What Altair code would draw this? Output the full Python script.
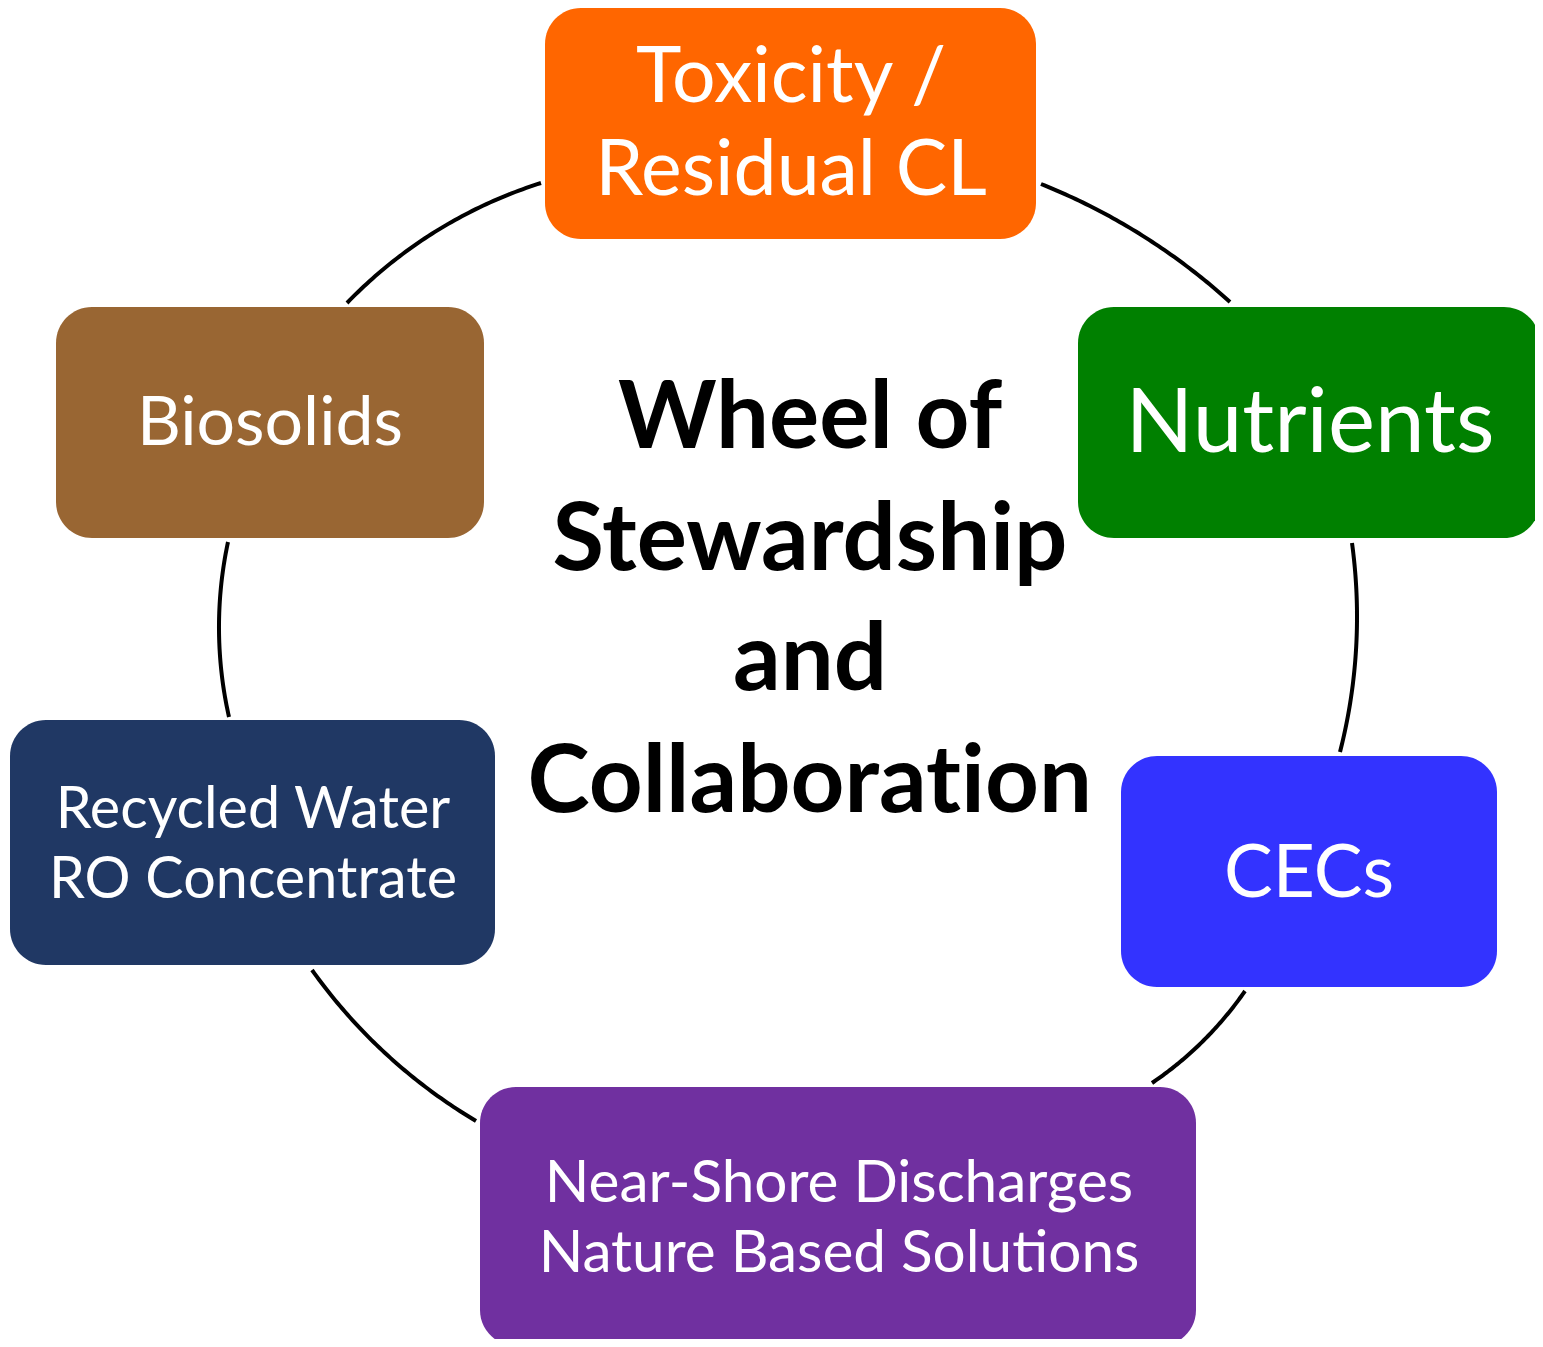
import altair as alt
import pandas as pd
import numpy as np

# ---- Boxes (screen-pixel coordinates) ----
box_names = ["Toxicity", "Nutrients", "CECs", "NearShore", "Recycled", "Biosolids"]
box_x1 = [545, 1078, 1121, 480, 10, 56]
box_x2 = [1036, 1540, 1497, 1196, 495, 484]
box_y1 = [8, 307, 756, 1087, 720, 307]
box_y2 = [239, 538, 987, 1346, 965, 538]
box_colors = ["#FF6600", "#008000", "#3333FF", "#7030A0", "#203864", "#996633"]

# ---- Box labels ----
label_lines = [["Toxicity /", "Residual CL"], ["Nutrients"], ["CECs"],
               ["Near-Shore Discharges", "Nature Based Solutions"],
               ["Recycled Water", "RO Concentrate"], ["Biosolids"]]
label_x = [791, 1310, 1309, 839, 253, 270]
label_baselines = [[102, 195], [452], [897], [1202, 1272], [828, 898], [445]]
label_sizes = [77, 89, 73, 58.5, 57.5, 68]

# ---- Centre title; last word is set in two runs so "ti" is not a ligature ----
title_text = ["Wheel of", "Stewardship", "and", "Collaborat", "ion"]
title_xpos = [810, 810, 810, 961, 961]
title_align = ["center", "center", "center", "right", "left"]
title_baselines = [448, 570, 690, 812, 812]
title_size = 94

# ---- Connector arcs: start, middle, end points ----
arc_start = [(347, 303), (1041, 184), (1352, 543), (1245, 991), (312, 970), (228, 542)]
arc_mid = [(430, 235), (1130, 228), (1357, 620), (1200, 1044), (395, 1062), (219, 630)]
arc_end = [(541, 183), (1230, 302), (1340, 752), (1152, 1083), (476, 1121), (229, 717)]


def circle3(p1, p2, p3):
    ax, ay = p1
    bx, by = p2
    cx, cy = p3
    d = 2 * (ax * (by - cy) + bx * (cy - ay) + cx * (ay - by))
    ux = ((ax**2 + ay**2) * (by - cy) + (bx**2 + by**2) * (cy - ay) + (cx**2 + cy**2) * (ay - by)) / d
    uy = ((ax**2 + ay**2) * (cx - bx) + (bx**2 + by**2) * (ax - cx) + (cx**2 + cy**2) * (bx - ax)) / d
    r = np.hypot(ax - ux, ay - uy)
    return ux, uy, r


rows = []
for i, (s, m, e) in enumerate(zip(arc_start, arc_mid, arc_end)):
    ux, uy, r = circle3(s, m, e)
    a0 = np.arctan2(s[1] - uy, s[0] - ux)
    am = np.arctan2(m[1] - uy, m[0] - ux)
    a1 = np.arctan2(e[1] - uy, e[0] - ux)
    d1 = (a1 - a0) % (2 * np.pi)
    dm = (am - a0) % (2 * np.pi)
    span = d1 if dm < d1 else d1 - 2 * np.pi
    for k, t in enumerate(np.linspace(0, 1, 60)):
        a = a0 + span * t
        rows.append({"arc": i, "k": k, "x": ux + r * np.cos(a), "y": uy + r * np.sin(a)})
arcs_df = pd.DataFrame(rows)

boxes_df = pd.DataFrame({"name": box_names, "x1": box_x1, "x2": box_x2,
                         "y1": box_y1, "y2": box_y2, "color": box_colors})

lab_rows = []
for lines, lx, bls, fs in zip(label_lines, label_x, label_baselines, label_sizes):
    for ln, bl in zip(lines, bls):
        lab_rows.append({"text": ln, "x": lx, "y": bl, "fs": fs})
labels_df = pd.DataFrame(lab_rows)

title_df = pd.DataFrame({"text": title_text, "x": title_xpos,
                         "y": title_baselines, "align": title_align})

W, H = 1527, 1331
xs = alt.Scale(domain=[8, 8 + W], range=[0, W])
ys = alt.Scale(domain=[8, 8 + H], range=[0, H])

rects = alt.Chart(boxes_df).mark_rect(cornerRadius=36).encode(
    x=alt.X("x1:Q", scale=xs, axis=None),
    x2="x2:Q",
    y=alt.Y("y1:Q", scale=ys, axis=None),
    y2="y2:Q",
    color=alt.Color("color:N", scale=None),
)

lines = alt.Chart(arcs_df).mark_line(color="black", strokeWidth=4, strokeCap="butt").encode(
    x=alt.X("x:Q", scale=xs, axis=None),
    y=alt.Y("y:Q", scale=ys, axis=None),
    detail="arc:N",
    order="k:Q",
)

labels = alt.Chart(labels_df).mark_text(
    align="center", baseline="alphabetic", font="Lato", color="white"
).encode(
    x=alt.X("x:Q", scale=xs, axis=None),
    y=alt.Y("y:Q", scale=ys, axis=None),
    text="text:N",
    size=alt.Size("fs:Q", scale=None),
)


def title_layer(al):
    sub = title_df[title_df["align"] == al]
    return alt.Chart(sub).mark_text(
        align=al, baseline="alphabetic", font="Lato", fontWeight="bold",
        color="black", fontSize=title_size
    ).encode(
        x=alt.X("x:Q", scale=xs, axis=None),
        y=alt.Y("y:Q", scale=ys, axis=None),
        text="text:N",
    )


chart = alt.layer(lines, rects, labels, title_layer("center"),
                  title_layer("right"), title_layer("left")).properties(
    width=W, height=H, padding=0,
    autosize=alt.AutoSizeParams(type="none"),
    background="white",
).configure_view(stroke=None)

chart.save("out.html", embed_options={"renderer": "svg", "actions": False})
